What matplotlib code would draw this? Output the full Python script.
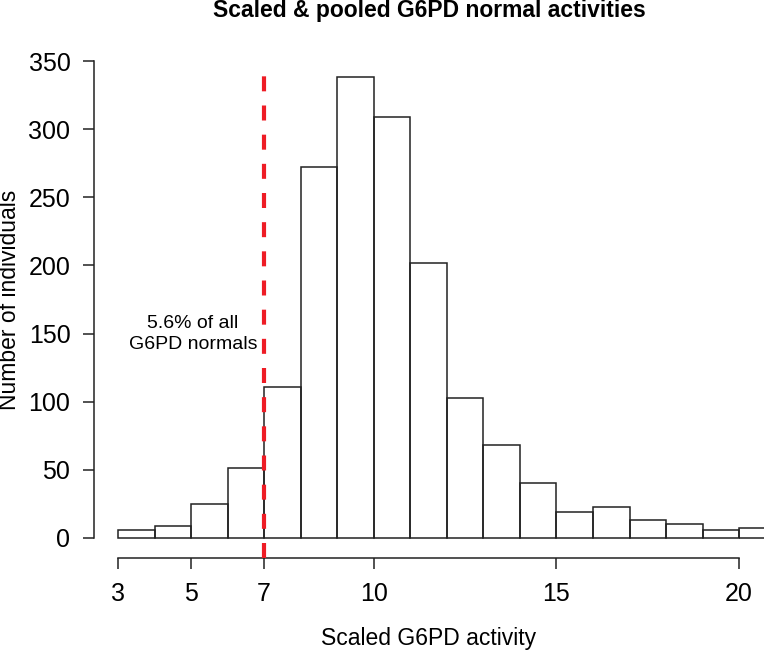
import matplotlib.pyplot as plt

plt.rcParams['font.family'] = ['Liberation Sans', 'DejaVu Sans']

# histogram data (bin width 1)
bin_edges = list(range(3, 22))
counts = [6, 9, 25, 51, 111, 272, 338, 309, 202, 103, 68, 40, 19, 23, 13, 10, 6, 7]
cutoff = 7
x_ticks = [3, 5, 7, 10, 15, 20]
y_ticks = [0, 50, 100, 150, 200, 250, 300, 350]
note = '5.6% of all\nG6PD normals'

W, H = 764, 654
fig = plt.figure(figsize=(W / 100, H / 100), dpi=100)
# plot region in pixels: left 94, right 764, top 41, bottom 558
ax = fig.add_axes([94 / W, (H - 558) / H, (764 - 94) / W, (558 - 41) / H])

ax.bar(bin_edges[:-1], counts, width=1, align='edge', fill=False,
       edgecolor='#222222', linewidth=1.1)

ax.set_xlim(2.343, 20.68)
ax.set_ylim(-14.7, 364.7)

ax.plot([cutoff, cutoff], [-14.7, 348], color='#ee1c25', linewidth=3.0,
        linestyle=(0, (3.6, 3.4)), zorder=5)

ax.text(5.05, 150, note, ha='center', va='center', fontsize=14, linespacing=1.3)

ax.set_xticks(x_ticks)
ax.set_yticks(y_ticks)
ax.tick_params(axis='both', direction='out', length=8, width=1.1, labelsize=18, pad=9,
               color='#222222')

for s in ['top', 'right']:
    ax.spines[s].set_visible(False)
for s in ['left', 'bottom']:
    ax.spines[s].set_linewidth(1.1)
    ax.spines[s].set_color('#222222')
ax.spines['left'].set_bounds(0, 350)
ax.spines['bottom'].set_bounds(3, 20)

fig.text(429 / W, 1 - 639 / H, 'Scaled G6PD activity', ha='center', va='center', fontsize=16.5)
fig.text(10 / W, 1 - 300 / H, 'Number of individuals', ha='center', va='center',
         rotation=90, fontsize=16.5)
fig.text(429 / W, 1 - 11 / H, 'Scaled & pooled G6PD normal activities', ha='center',
         va='center', fontsize=16.5, fontweight='bold')

fig.savefig('out.png', dpi=100)
